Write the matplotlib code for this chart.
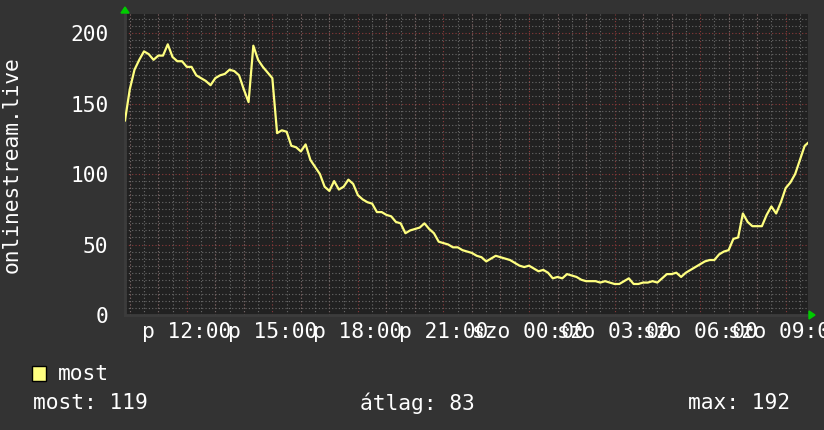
import numpy as np
import matplotlib.pyplot as plt

# 10 minute samples, starting fri 09:50 (hours since fri 00:00)
start_hour = 9 + 50 / 60
viewers = [138, 160, 174, 181, 187, 185, 181, 184, 184, 192,
           183, 180, 180, 176, 176, 170, 168, 166, 163, 168,
           170, 171, 174, 173, 170, 160, 151, 191, 181, 176,
           172, 168, 129, 131, 130, 120, 119, 116, 121, 110,
           105, 100, 91, 88, 95, 89, 91, 96, 93, 85,
           82, 80, 79, 73, 73, 71, 70, 66, 65, 58,
           60, 61, 62, 65, 61, 58, 52, 51, 50, 48,
           48, 46, 45, 44, 42, 41, 38, 40, 42, 41,
           40, 39, 37, 35, 34, 35, 33, 31, 32, 30,
           26, 27, 26, 29, 28, 27, 25, 24, 24, 24,
           23, 24, 23, 22, 22, 24, 26, 22, 22, 23,
           23, 24, 23, 26, 29, 29, 30, 27, 30, 32,
           34, 36, 38, 39, 39, 43, 45, 46, 54, 55,
           72, 66, 63, 63, 63, 71, 77, 72, 80, 90,
           94, 100, 110, 120, 123, 119]
hours = start_hour + np.arange(len(viewers)) / 6

tick_hours = [12, 15, 18, 21, 24, 27, 30, 33]
tick_labels = ['p 12:00', 'p 15:00', 'p 18:00', 'p 21:00',
               'szo 00:00', 'szo 03:00', 'szo 06:00', 'szo 09:00']
y_ticks = [0, 50, 100, 150, 200]

series_name = 'most'
stats = {'most': 119, 'átlag': 83, 'max': 192}

bg = '#333333'
canvas = '#212121'
minor_col = '#6a6a6a'
major_col = '#8c3a3a'
line_col = '#ffff80'
mono = 'DejaVu Sans Mono'
fs = 15.3

fig = plt.figure(figsize=(8.24, 4.30), dpi=100, facecolor=bg)
ax = fig.add_axes([125 / 824, 115 / 430, 683 / 824, 301 / 430])
ax.set_facecolor(canvas)

ax.set_xlim(start_hour, start_hour + 23.95)
ax.set_ylim(0, 213.5)

# grid: minor grey dotted, major red dotted
ax.set_xticks(np.arange(10, 34, 0.5), minor=True)
ax.set_yticks(np.arange(0, 214, 5), minor=True)
ax.grid(which='minor', color=minor_col, linestyle=(0, (1, 2)), linewidth=0.8)
for h in range(10, 34):
    ax.axvline(h, color=major_col, linestyle=(0, (1, 2)), linewidth=0.8, zorder=1)
for v in y_ticks[1:]:
    ax.axhline(v, color=major_col, linestyle=(0, (1, 2)), linewidth=0.8, zorder=1)

ax.plot(hours, viewers, color=line_col, linewidth=1.6, zorder=3)

ax.set_xticks(tick_hours)
ax.set_xticklabels(tick_labels)
ax.set_yticks(y_ticks)
ax.tick_params(which='both', length=0)
ax.tick_params(axis='x', pad=5, labelsize=fs, labelcolor='white')
ax.tick_params(axis='y', pad=12, labelsize=fs, labelcolor='white')
for lab in ax.get_xticklabels() + ax.get_yticklabels():
    lab.set_family(mono)

for s in ['top', 'right']:
    ax.spines[s].set_visible(False)
for s in ['left', 'bottom']:
    ax.spines[s].set_color('#3c3c3c')
    ax.spines[s].set_linewidth(2)

ax.set_ylabel('onlinestream.live', family=mono, fontsize=fs, color='white')
ax.yaxis.set_label_coords(-0.152, 0.5)

# axis arrows
fig.patches.append(plt.Polygon([[121 / 824, 1 - 13 / 430], [129 / 824, 1 - 13 / 430],
                                [125 / 824, 1 - 7 / 430]], closed=True,
                               color='#00cc00', transform=fig.transFigure))
fig.patches.append(plt.Polygon([[809 / 824, 1 - 311 / 430], [809 / 824, 1 - 319 / 430],
                                [815 / 824, 1 - 315 / 430]], closed=True,
                               color='#00cc00', transform=fig.transFigure))

# legend
fig.patches.append(plt.Rectangle((32 / 824, 1 - 381 / 430), 14 / 824, 15 / 430,
                                 facecolor=line_col, edgecolor='black', linewidth=1,
                                 transform=fig.transFigure))
fig.text(58 / 824, 1 - 374 / 430, series_name, family=mono, fontsize=fs,
         color='white', va='center')
fig.text(33 / 824, 1 - 403 / 430, f"most: {stats['most']}", family=mono,
         fontsize=fs, color='white', va='center')
fig.text(360 / 824, 1 - 403 / 430, f"átlag: {stats['átlag']}", family=mono,
         fontsize=fs, color='white', va='center')
fig.text(688 / 824, 1 - 403 / 430, f"max: {stats['max']}", family=mono,
         fontsize=fs, color='white', va='center')

fig.savefig('out.png', dpi=100, facecolor=bg)
